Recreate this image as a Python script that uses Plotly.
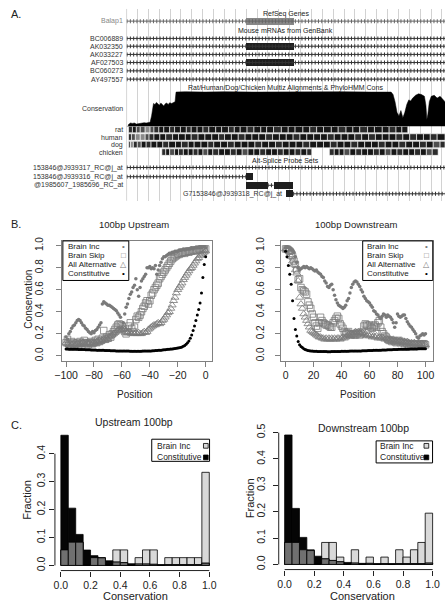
import numpy as np
import plotly.graph_objects as go

W, H = 446, 602
FONT = "Liberation Sans, Arial, Helvetica, sans-serif"
GRAY = "#7a7a7a"
LIGHT = "#d9d9d9"
DARK = "#707070"

def px(x): return x / W
def py(y): return 1 - y / H

# ---------------- Panel A data (genome browser) ----------------
mrna_names = ["Balap1", "BC006889", "AK032350", "AK033227", "AF027503", "BC060273", "AY497557"]
mrna_rows = [15.3, 32.8, 40.7, 49.0, 57.2, 65.6, 74.0]
exon_names = ["Balap1", "AK032350", "AF027503"]
exon_start = [122, 122, 122]
exon_end = [171, 171, 171]

cons_pos = [0, 1.5, 2, 4, 6, 8, 10, 12, 14, 16, 18, 20, 22, 24, 25.5, 26.5, 27.5, 29, 30.5, 32, 33.5,
            35, 36.5, 38, 39.5, 41, 42.5, 44, 46, 48, 49.5, 50.5, 60, 80, 100, 130, 160, 190, 220,
            250, 270, 272, 274, 276, 278, 280, 282, 284, 286, 288, 290, 292, 295, 298, 301, 304,
            305.5, 306.5, 307.5, 309, 311, 314, 317, 320, 323, 325]
cons_val = [0, 0, 0.06, 0.1, 0.09, 0.1, 0.07, 0.08, 0.1, 0.1, 0.11, 0.1, 0.1, 0.12, 0.3, 0.55, 0.65,
            0.62, 0.68, 0.64, 0.6, 0.66, 0.62, 0.58, 0.64, 0.66, 0.62, 0.67, 0.65, 0.68, 0.7, 0.97,
            0.98, 0.97, 0.98, 0.97, 0.98, 0.97, 0.98, 0.97, 0.97, 0.9, 0.7, 0.4, 0.3, 0.45, 0.25,
            0.4, 0.62, 0.75, 0.72, 0.8, 0.88, 0.92, 0.9, 0.85, 0.6, 0.2, 0.35, 0.7, 0.85, 0.88,
            0.8, 0.85, 0.75, 0.7]

species = ["rat", "human", "dog", "chicken"]
species_rows = [125.0, 132.6, 140.2, 147.8]
rat_edges = [2, 6, 10, 14, 19, 24, 28, 33, 38, 44, 49, 55, 61, 66, 72, 78, 84, 91, 97, 104, 110, 116,
             123, 130, 137, 143, 150, 158, 165, 172, 180, 187, 194, 201, 209, 216, 224, 231, 238,
             246, 253, 261, 268, 275, 281, 287]
rat_shades = [1, 0, 2, 2, 3, 2, 1, 0, 0, 1,
              0, 0, 1, 0, 0, 1, 0, 0, 0, 1,
              0, 0, 1, 0, 0, 0, 1, 0, 0, 0,
              0, 1, 0, 0, 0, 1, 0, 0, 1, 0,
              0, 0, 1, 0, 0]
human_edges = [2, 5, 9, 14, 19, 23, 28, 34, 40, 47, 53, 60, 66, 73, 80, 87, 94, 100, 107, 114, 121,
               128, 135, 142, 149, 156, 163, 170, 177, 184, 191, 198, 205, 212, 219, 226, 233, 240,
               247, 254, 261, 268, 275, 282, 289, 296, 303, 310, 317, 325]
human_shades = [1, 2, 3, 3, 2, 1, 0, 0, 1, 0,
                0, 0, 1, 0, 0, 0, 1, 0, 0, 1,
                0, 0, 0, 1, 0, 0, 0, 1, 0, 0,
                0, 0, 1, 0, 0, 0, 1, 0, 1, 0,
                0, 0, 1, 0, 1, 0, 0, 1, 0]
dog_edges = [2, 4, 7, 11, 15, 20, 25, 31, 37, 43, 50, 56, 63, 69, 76, 83, 89, 96, 103, 110, 117,
             124, 131, 138, 145, 152, 159, 166, 173, 180, 187, 194, 201, 208, 215, 222, 229, 236,
             243, 250, 257, 264, 271, 278, 285, 292, 299, 306, 313, 320, 325]
dog_shades = [2, 3, 1, 2, 0, 1, 0, 0, 1, 0,
              0, 1, 0, 0, 0, 1, 0, 0, 1, 0,
              0, 0, 1, 0, 0, 1, 0, 0, 0, 1,
              0, 0, 0, 1, 0, 0, 1, 0, 0, 0,
              1, 0, 0, 1, 0, 0, 1, 0, 2, 1]
chicken_edges = [36, 40, 44, 49, 53, 58, 63, 68, 73, 78, 83, 88, 94, 100, 106, 112, 118, 124, 130,
                 136, 142, 148, 154, 160, 166, 172, 178, 184, 189, 207, 212, 217, 222, 228, 234,
                 240, 246, 252, 258, 264, 270, 276, 282, 288, 294, 300, 306, 312, 318]
chicken_shades = [1, 0, 2, 0, 1, 0, 0, 1, 0, 2,
                  0, 1, 0, 0, 1, 0, 2, 0, 0, 1,
                  0, 0, 1, 0, 0, 1, 0, 1, None, 1,
                  0, 0, 2, 0, 1, 0, 0, 1, 0, 2,
                  0, 1, 0, 0, 1, 0, 2, 1]
shade_colors = ["#161616", "#2c2c2c", "#4e4e4e", "#8a8a8a"]

probe_names = ["153846@J939317_RC@j_at", "153846@J939316_RC@j_at",
               "@1985607_1985696_RC_at", "G7153846@J939318_RC@j_at"]
probe_rows = [163.4, 172.7, 181.4, 190.0]
probe_line_start = [0, 0, 144, 170]
probe_line_end = [325, 122, 150, 325]
probe_box_row = [1, 2, 2, 3]
probe_box_start = [122, 122, 150, 163]
probe_box_end = [129, 144, 170, 170]

# ---------------- Panel B data ----------------
up_pos = list(range(-100, 1))
dn_pos = list(range(0, 101))

up_brain_inc = [0.17, 0.15, 0.20, 0.22, 0.25, 0.27, 0.28, 0.30, 0.32, 0.33,
                0.32, 0.30, 0.28, 0.27, 0.25, 0.24, 0.22, 0.21, 0.20, 0.22,
                0.21, 0.23, 0.24, 0.26, 0.28, 0.30, 0.47, 0.49, 0.48, 0.47,
                0.46, 0.46, 0.45, 0.44, 0.43, 0.42, 0.41, 0.39, 0.37, 0.35,
                0.26, 0.30, 0.38, 0.44, 0.47, 0.52, 0.56, 0.58, 0.62, 0.64,
                0.70, 0.60, 0.54, 0.62, 0.68, 0.70, 0.72, 0.74, 0.80, 0.80,
                0.81, 0.79, 0.80, 0.79, 0.82, 0.74, 0.78, 0.82, 0.85, 0.88,
                0.90, 0.90, 0.91, 0.92, 0.93, 0.93, 0.94, 0.94, 0.95, 0.95,
                0.95, 0.96, 0.96, 0.96, 0.97, 0.96, 0.97, 0.97, 0.97, 0.97,
                0.98, 0.97, 0.98, 0.98, 0.98, 0.98, 0.99, 0.98, 0.99, 0.99,
                0.98]
up_brain_skip = [0.12, 0.15, 0.11, 0.10, 0.13, 0.12, 0.10, 0.11, 0.12, 0.10,
                 0.13, 0.11, 0.12, 0.14, 0.12, 0.11, 0.10, 0.12, 0.13, 0.11,
                 0.12, 0.14, 0.12, 0.15, 0.13, 0.14, 0.16, 0.23, 0.15, 0.17,
                 0.16, 0.19, 0.17, 0.20, 0.22, 0.24, 0.26, 0.28, 0.29, 0.28,
                 0.27, 0.25, 0.22, 0.20, 0.22, 0.27, 0.30, 0.25, 0.22, 0.26,
                 0.33, 0.36, 0.35, 0.37, 0.40, 0.43, 0.45, 0.48, 0.50, 0.47,
                 0.50, 0.55, 0.57, 0.60, 0.62, 0.64, 0.66, 0.70, 0.72, 0.74,
                 0.76, 0.78, 0.80, 0.82, 0.84, 0.86, 0.88, 0.89, 0.90, 0.91,
                 0.92, 0.92, 0.93, 0.93, 0.94, 0.93, 0.94, 0.95, 0.94, 0.95,
                 0.95, 0.96, 0.95, 0.96, 0.96, 0.97, 0.96, 0.97, 0.97, 0.97,
                 0.97]
up_all_alt = [0.12, 0.11, 0.10, 0.09, 0.10, 0.11, 0.09, 0.10, 0.11, 0.10,
              0.10, 0.11, 0.12, 0.11, 0.10, 0.12, 0.11, 0.12, 0.10, 0.11,
              0.12, 0.11, 0.13, 0.12, 0.14, 0.13, 0.14, 0.15, 0.14, 0.16,
              0.15, 0.17, 0.18, 0.19, 0.20, 0.21, 0.22, 0.23, 0.24, 0.23,
              0.24, 0.25, 0.24, 0.22, 0.21, 0.22, 0.21, 0.20, 0.21, 0.20,
              0.21, 0.20, 0.21, 0.20, 0.20, 0.21, 0.22, 0.21, 0.22, 0.24,
              0.25, 0.26, 0.27, 0.28, 0.28, 0.29, 0.30, 0.29, 0.30, 0.32,
              0.33, 0.35, 0.37, 0.39, 0.40, 0.43, 0.46, 0.50, 0.53, 0.57,
              0.60, 0.62, 0.64, 0.66, 0.69, 0.71, 0.73, 0.75, 0.77, 0.79,
              0.80, 0.82, 0.84, 0.86, 0.88, 0.89, 0.91, 0.92, 0.93, 0.94,
              0.95]
up_constitutive = [0.062, 0.062, 0.061, 0.061, 0.060, 0.060, 0.060, 0.059, 0.059, 0.058,
                   0.058, 0.058, 0.057, 0.057, 0.056, 0.056, 0.055, 0.055, 0.054, 0.054,
                   0.053, 0.053, 0.052, 0.052, 0.051, 0.051, 0.050, 0.050, 0.049, 0.049,
                   0.048, 0.048, 0.047, 0.047, 0.046, 0.046, 0.045, 0.045, 0.045, 0.044,
                   0.044, 0.044, 0.043, 0.043, 0.043, 0.043, 0.042, 0.042, 0.042, 0.042,
                   0.042, 0.042, 0.042, 0.042, 0.042, 0.043, 0.043, 0.043, 0.044, 0.044,
                   0.045, 0.045, 0.046, 0.047, 0.048, 0.049, 0.050, 0.051, 0.052, 0.054,
                   0.055, 0.056, 0.058, 0.059, 0.060, 0.062, 0.063, 0.065, 0.067, 0.069,
                   0.071, 0.074, 0.077, 0.081, 0.087, 0.095, 0.105, 0.118, 0.135, 0.160,
                   0.19, 0.23, 0.27, 0.32, 0.37, 0.42, 0.48, 0.57, 0.71, 0.83,
                   0.90]

dn_brain_inc = [0.98, 0.99, 0.98, 0.98, 0.97, 0.96, 0.94, 0.90, 0.85, 0.80,
                0.78, 0.79, 0.80, 0.81, 0.80, 0.81, 0.80, 0.79, 0.80, 0.79,
                0.78, 0.77, 0.78, 0.76, 0.75, 0.74, 0.72, 0.71, 0.68, 0.66,
                0.63, 0.62, 0.64, 0.65, 0.60, 0.55, 0.51, 0.48, 0.46, 0.45,
                0.44, 0.43, 0.44, 0.46, 0.50, 0.52, 0.57, 0.62, 0.65, 0.67,
                0.68, 0.67, 0.65, 0.63, 0.60, 0.58, 0.54, 0.52, 0.50, 0.49,
                0.48, 0.46, 0.44, 0.41, 0.40, 0.38, 0.37, 0.35, 0.34, 0.36,
                0.38, 0.37, 0.35, 0.37, 0.36, 0.35, 0.33, 0.30, 0.26, 0.30,
                0.38, 0.36, 0.35, 0.36, 0.37, 0.37, 0.34, 0.31, 0.29, 0.27,
                0.26, 0.24, 0.22, 0.20, 0.17, 0.16, 0.18, 0.19, 0.20, 0.19,
                0.20]
dn_brain_skip = [0.97, 0.97, 0.96, 0.95, 0.93, 0.90, 0.86, 0.83, 0.78, 0.69,
                 0.70, 0.62, 0.60, 0.59, 0.58, 0.56, 0.49, 0.46, 0.43, 0.38,
                 0.35, 0.30, 0.27, 0.25, 0.30, 0.35, 0.32, 0.30, 0.29, 0.28,
                 0.28, 0.27, 0.26, 0.26, 0.30, 0.32, 0.34, 0.36, 0.34, 0.29,
                 0.27, 0.25, 0.22, 0.20, 0.21, 0.22, 0.20, 0.19, 0.20, 0.19,
                 0.19, 0.20, 0.21, 0.19, 0.20, 0.22, 0.27, 0.29, 0.28, 0.27,
                 0.28, 0.26, 0.25, 0.27, 0.28, 0.26, 0.30, 0.32, 0.26, 0.22,
                 0.20, 0.18, 0.17, 0.15, 0.14, 0.14, 0.13, 0.14, 0.13, 0.12,
                 0.13, 0.14, 0.12, 0.13, 0.12, 0.11, 0.12, 0.11, 0.10, 0.11,
                 0.10, 0.11, 0.10, 0.11, 0.10, 0.10, 0.11, 0.10, 0.11, 0.11,
                 0.10]
dn_all_alt = [0.97, 0.97, 0.96, 0.94, 0.90, 0.86, 0.83, 0.78, 0.75, 0.68,
              0.53, 0.47, 0.43, 0.38, 0.35, 0.32, 0.29, 0.26, 0.23, 0.22,
              0.21, 0.20, 0.19, 0.18, 0.17, 0.17, 0.16, 0.16, 0.15, 0.16,
              0.15, 0.16, 0.15, 0.16, 0.15, 0.16, 0.15, 0.16, 0.16, 0.15,
              0.16, 0.17, 0.16, 0.17, 0.18, 0.19, 0.18, 0.20, 0.19, 0.21,
              0.22, 0.21, 0.22, 0.21, 0.20, 0.21, 0.19, 0.20, 0.18, 0.19,
              0.18, 0.19, 0.17, 0.18, 0.17, 0.18, 0.16, 0.17, 0.16, 0.17,
              0.16, 0.15, 0.16, 0.15, 0.14, 0.15, 0.14, 0.15, 0.14, 0.13,
              0.14, 0.13, 0.14, 0.13, 0.12, 0.13, 0.12, 0.13, 0.12, 0.11,
              0.12, 0.11, 0.12, 0.11, 0.10, 0.11, 0.10, 0.11, 0.10, 0.10,
              0.10]
dn_constitutive = [0.95, 0.90, 0.82, 0.74, 0.65, 0.50, 0.34, 0.24, 0.18, 0.13,
                   0.100, 0.085, 0.075, 0.065, 0.058, 0.053, 0.049, 0.046, 0.044, 0.043,
                   0.042, 0.041, 0.041, 0.040, 0.040, 0.040, 0.039, 0.039, 0.039, 0.039,
                   0.038, 0.038, 0.038, 0.039, 0.039, 0.039, 0.040, 0.040, 0.040, 0.040,
                   0.041, 0.041, 0.041, 0.042, 0.042, 0.042, 0.043, 0.043, 0.043, 0.044,
                   0.044, 0.044, 0.045, 0.045, 0.045, 0.046, 0.046, 0.047, 0.047, 0.048,
                   0.048, 0.049, 0.049, 0.050, 0.050, 0.051, 0.051, 0.052, 0.052, 0.053,
                   0.053, 0.054, 0.054, 0.055, 0.055, 0.056, 0.056, 0.057, 0.057, 0.058,
                   0.058, 0.059, 0.059, 0.060, 0.060, 0.060, 0.061, 0.061, 0.061, 0.062,
                   0.062, 0.062, 0.063, 0.063, 0.063, 0.064, 0.064, 0.064, 0.065, 0.065,
                   0.065]

# ---------------- Panel C data (histograms, bin width 0.05) ----------------
bin_left = [0.00, 0.05, 0.10, 0.15, 0.20, 0.25, 0.30, 0.35, 0.40, 0.45,
            0.50, 0.55, 0.60, 0.65, 0.70, 0.75, 0.80, 0.85, 0.90, 0.95]
up_hist_brain = [0.0556, 0.0833, 0.0833, 0, 0.0278, 0.0278, 0, 0.0556, 0.0556, 0,
                 0.0278, 0.0556, 0.0556, 0, 0.0278, 0.0278, 0.0278, 0.0278, 0.0278, 0.3333]
up_hist_const = [0.466, 0.205, 0.111, 0.055, 0.035, 0.027, 0.0165, 0.012, 0.010, 0.006,
                 0.005, 0.005, 0.004, 0.003, 0.003, 0.003, 0.003, 0.003, 0.003, 0.008]
dn_hist_brain = [0.0833, 0.0833, 0.0556, 0.0556, 0, 0.0833, 0.0833, 0.0278, 0, 0.0556,
                 0, 0.0278, 0, 0.0278, 0, 0.0556, 0.0278, 0.0556, 0.0833, 0.1944]
dn_hist_const = [0.491, 0.2125, 0.1025, 0.0525, 0.031, 0.021, 0.015, 0.010, 0.0075, 0.005,
                 0.004, 0.004, 0.003, 0.003, 0.003, 0.003, 0.003, 0.003, 0.003, 0.005]

fig = go.Figure()

# ---------------- Panel A traces ----------------
def strand_line(x0, x1, row, color):
    fig.add_trace(go.Scatter(x=[x0, x1], y=[row, row], mode="lines",
                             line=dict(color=color, width=1), xaxis="x", yaxis="y",
                             hoverinfo="skip"))
    fig.add_trace(go.Scatter(x=[x0, x1], y=[row, row], mode="lines",
                             line=dict(color=color, width=4, dash="1px,2.3px"),
                             xaxis="x", yaxis="y", hoverinfo="skip"))

for name, row in zip(mrna_names, mrna_rows):
    strand_line(0, 325, row, "#666666" if name == "Balap1" else "#333333")

ex_rows = [mrna_rows[mrna_names.index(n)] for n in exon_names]
ex_cols = ["#888888" if n == "Balap1" else "#1e1e1e" for n in exon_names]
fig.add_trace(go.Bar(orientation="h", y=ex_rows, base=exon_start,
                     x=list(np.array(exon_end) - np.array(exon_start)), width=7,
                     marker=dict(color=ex_cols, line=dict(width=0)),
                     xaxis="x", yaxis="y", hoverinfo="skip"))

fig.add_trace(go.Scatter(x=cons_pos, y=cons_val, mode="lines", fill="tozeroy",
                         fillcolor="black", line=dict(color="black", width=0.5),
                         xaxis="x", yaxis="y2", hoverinfo="skip"))

for name, row, edges, shades in zip(species, species_rows,
                                    [rat_edges, human_edges, dog_edges, chicken_edges],
                                    [rat_shades, human_shades, dog_shades, chicken_shades]):
    e = np.array(edges, dtype=float)
    keep = [i for i, s in enumerate(shades) if s is not None]
    fig.add_trace(go.Bar(orientation="h", y=[row] * len(keep), base=e[:-1][keep],
                         x=np.diff(e)[keep], width=6.6,
                         marker=dict(color=[shade_colors[shades[i]] for i in keep],
                                     line=dict(color="white", width=0.6)),
                         xaxis="x", yaxis="y", hoverinfo="skip"))

for i, row in enumerate(probe_rows):
    strand_line(probe_line_start[i], probe_line_end[i], row, "#333333")
pb_rows = [probe_rows[r] for r in probe_box_row]
fig.add_trace(go.Bar(orientation="h", y=pb_rows, base=probe_box_start,
                     x=list(np.array(probe_box_end) - np.array(probe_box_start)), width=7,
                     marker=dict(color="#1e1e1e", line=dict(width=0)),
                     xaxis="x", yaxis="y", hoverinfo="skip"))

# ---------------- Panel B traces ----------------
def add_scatter(xa, ya, pos, bi, bs, aa, co):
    fig.add_trace(go.Scatter(x=pos, y=aa, mode="markers", xaxis=xa, yaxis=ya,
                             marker=dict(symbol="triangle-up-open", size=7, color=GRAY,
                                         line=dict(width=0.8, color=GRAY))))
    fig.add_trace(go.Scatter(x=pos, y=bs, mode="markers", xaxis=xa, yaxis=ya,
                             marker=dict(symbol="square-open", size=6.5, color=GRAY,
                                         line=dict(width=0.8, color=GRAY))))
    fig.add_trace(go.Scatter(x=pos, y=bi, mode="markers", xaxis=xa, yaxis=ya,
                             marker=dict(symbol="circle", size=3.5, color=GRAY,
                                         line=dict(width=0))))
    fig.add_trace(go.Scatter(x=pos, y=co, mode="markers", xaxis=xa, yaxis=ya,
                             marker=dict(symbol="circle", size=3, color="black",
                                         line=dict(width=0))))

add_scatter("x2", "y3", up_pos, up_brain_inc, up_brain_skip, up_all_alt, up_constitutive)
add_scatter("x3", "y4", dn_pos, dn_brain_inc, dn_brain_skip, dn_all_alt, dn_constitutive)

# ---------------- Panel C traces ----------------
def add_hist(xa, ya, brain, const):
    low = [min(a, b) for a, b in zip(brain, const)]
    for vals, col in [(brain, LIGHT), (const, "#050505"), (low, DARK)]:
        fig.add_trace(go.Bar(x=bin_left, y=vals, width=0.05, offset=0, xaxis=xa, yaxis=ya,
                             marker=dict(color=col, line=dict(color="black", width=0.8)),
                             hoverinfo="skip"))

add_hist("x4", "y5", up_hist_brain, up_hist_const)
add_hist("x5", "y6", dn_hist_brain, dn_hist_const)

# ---------------- Layout ----------------
hidden = dict(visible=False, fixedrange=True)
tickfont = dict(size=10.5, color="#222222", family=FONT)

def box_axis(**kw):
    d = dict(showgrid=False, zeroline=False, showline=True, mirror=True, linecolor="#808080",
             linewidth=1, ticks="outside", ticklen=5, tickcolor="#808080", tickwidth=1,
             tickfont=tickfont)
    d.update(kw)
    return d

def hist_axis(**kw):
    d = dict(showgrid=False, zeroline=False, showline=False, ticks="outside", ticklen=5,
             tickcolor="#222222", tickwidth=1, tickfont=tickfont)
    d.update(kw)
    return d

yt = [0, 0.2, 0.4, 0.6, 0.8, 1.0]
ytt = ["0.0", "0.2", "0.4", "0.6", "0.8", "1.0"]
ct = [0, 0.2, 0.4, 0.6, 0.8, 1.0]

layout = dict(
    width=W, height=H, margin=dict(l=0, r=0, t=0, b=0),
    paper_bgcolor="white", plot_bgcolor="rgba(0,0,0,0)",
    showlegend=False, barmode="overlay", bargap=0,
    font=dict(family=FONT, color="#222222"),
    xaxis=dict(domain=[px(121), px(446)], range=[0, 325], anchor="y", showgrid=True,
               gridcolor="#d2d2d2", gridwidth=1, tick0=0, dtick=11.1,
               showticklabels=False, ticks="", zeroline=False, showline=False,
               fixedrange=True),
    yaxis=dict(domain=[py(197), py(3)], range=[197, 3], anchor="x", **hidden),
    yaxis2=dict(domain=[py(122), py(86)], range=[0, 1], anchor="x", **hidden),
    xaxis2=box_axis(domain=[px(55), px(208)], range=[-103.0, 4.4], anchor="y3",
                    tickvals=[-100, -80, -60, -40, -20, 0]),
    yaxis3=box_axis(domain=[py(359), py(238)], range=[-0.045, 1.04], anchor="x2",
                    tickvals=yt, ticktext=ytt, tickangle=-90, ticklabelstandoff=9,
                    tickfont=dict(size=10, color="#222222", family=FONT)),
    xaxis3=box_axis(domain=[px(278.3), px(433.5)], range=[-3.5, 105.2], anchor="y4",
                    tickvals=[0, 20, 40, 60, 80, 100]),
    yaxis4=box_axis(domain=[py(359), py(238)], range=[-0.045, 1.04], anchor="x3",
                    tickvals=yt, ticktext=ytt, tickangle=-90, ticklabelstandoff=7,
                    tickfont=dict(size=10, color="#222222", family=FONT)),
    xaxis4=hist_axis(domain=[px(47.9), px(211.5)], range=[-0.04, 1.04], anchor="y5",
                     tickvals=ct, ticktext=ytt),
    yaxis5=hist_axis(domain=[py(571.2), py(430.8)], range=[-0.0184, 0.4784], anchor="x4",
                     tickvals=[0, 0.1, 0.2, 0.3, 0.4],
                     ticktext=["0.0", "0.1", "0.2", "0.3", "0.4"], tickangle=-90),
    xaxis5=hist_axis(domain=[px(276.3), px(439.4)], range=[-0.04, 1.04], anchor="y6",
                     tickvals=ct, ticktext=ytt),
    yaxis6=hist_axis(domain=[py(570.2), py(429.1)], range=[-0.0196, 0.5096], anchor="x5",
                     tickvals=[0, 0.1, 0.2, 0.3, 0.4, 0.5],
                     ticktext=["0.0", "0.1", "0.2", "0.3", "0.4", "0.5"], tickangle=-90,
                     ticklabelstandoff=4),
)
fig.update_layout(**layout)

# ---------------- Shapes ----------------
shapes = []
shapes.append(dict(type="line", xref="x", yref="paper", x0=0, x1=0, y0=py(197), y1=py(3),
                   line=dict(color="#a8a8a8", width=1)))
for xa, ya in [("x4", "y5"), ("x5", "y6")]:
    shapes.append(dict(type="line", xref=xa, yref=ya + " domain", x0=0, x1=1, y0=0, y1=0,
                       line=dict(color="#222222", width=1)))
shapes.append(dict(type="line", xref="x4 domain", yref="y5", x0=0, x1=0, y0=0, y1=0.4,
                   line=dict(color="#222222", width=1)))
shapes.append(dict(type="line", xref="x5 domain", yref="y6", x0=0, x1=0, y0=0, y1=0.5,
                   line=dict(color="#222222", width=1)))

def rect(x0, y0, x1, y1, fill="white", lw=1, color="black"):
    shapes.append(dict(type="rect", xref="paper", yref="paper", x0=px(x0), x1=px(x1),
                       y0=py(y1), y1=py(y0), fillcolor=fill, layer="above",
                       line=dict(color=color, width=lw)))
rect(56, 237.7, 123.3, 277.7)
rect(362, 237.7, 433.5, 277.7)
rect(146.7, 438.3, 205.7, 460.7)
rect(375.7, 440, 433.3, 462.3)
rect(199.5, 442.6, 204.3, 447.4, fill=LIGHT, lw=0.8)
rect(199.5, 454.3, 204.3, 459.1, fill="black", lw=0.8)
rect(424.6, 442.6, 429.4, 447.4, fill=LIGHT, lw=0.8)
rect(424.6, 454.3, 429.4, 459.1, fill="black", lw=0.8)
fig.update_layout(shapes=shapes)

# ---------------- Annotations ----------------
anns = []
def ann(text, x, y, size, xanchor="center", color="#222222", angle=0):
    anns.append(dict(text=text, x=px(x), y=py(y), xref="paper", yref="paper",
                     xanchor=xanchor, yanchor="middle", showarrow=False, textangle=angle,
                     font=dict(size=size, color=color, family=FONT)))

ann("A.", 1, 8, 11, xanchor="left")
ann("B.", 1, 221, 11, xanchor="left")
ann("C.", 1, 424, 11, xanchor="left")

AS = 7.0
ann("RefSeq Genes", 283.5, 8.3, AS)
ann("Mouse mRNAs from GenBank", 283.5, 24.7, AS)
ann("Rat/Human/Dog/Chicken Multiz Alignments &amp; PhyloHMM Cons", 283.5, 83.3, AS)
ann("Alt-Splice Probe Sets", 283.5, 156.7, AS)
for name, row in zip(mrna_names, mrna_rows):
    ann(name, 119.5, row, AS, xanchor="right",
        color="#888888" if name == "Balap1" else "#333333")
ann("Conservation", 119.5, 104, AS, xanchor="right", color="#333333")
for name, row in zip(species, species_rows):
    ann(name, 119.5, row, AS, xanchor="right", color="#333333")
for name, row in zip(probe_names[:3], probe_rows[:3]):
    ann(name, 119.5, row, AS, xanchor="right", color="#333333")
ann(probe_names[3], 282, probe_rows[3], AS, xanchor="right", color="#333333")

ann("100bp Upstream", 128.5, 221, 9.5)
ann("100bp Downstream", 355, 221, 9.5)
ann("Position", 130, 393, 10)
ann("Position", 357, 393, 10)
ann("Conservation", 20.5, 297, 10, angle=-90)
leg_names = ["Brain Inc", "Brain Skip", "All Alternative", "Constitutive"]
leg_syms = ["•", "□", "△", "•"]
leg_cols = [GRAY, GRAY, GRAY, "black"]
leg_y = [243.5, 252.3, 261.3, 270.2]
for lx, sx in [(59, 118.3), (364.7, 427)]:
    for n, s, c, yy in zip(leg_names, leg_syms, leg_cols, leg_y):
        ann(n, lx, yy, 8, xanchor="left")
        ann(s, sx, yy, 8, color=c)

ann("Upstream 100bp", 129, 421, 10.5)
ann("Downstream 100bp", 362.5, 427, 10.5)
ann("Fraction", 20, 500, 11, angle=-90)
ann("Fraction", 247, 498, 11, angle=-90)
ann("Conservation", 130, 597, 11)
ann("Conservation", 361.5, 597, 11)
for lx, y1, y2 in [(150.5, 445, 456.7), (377.7, 445, 456.7)]:
    ann("Brain Inc", lx, y1, 8.5, xanchor="left")
    ann("Constitutive", lx, y2, 8.5, xanchor="left")

fig.update_layout(annotations=anns)
fig.write_html("out.html", config={"displayModeBar": False, "staticPlot": True},
               post_script="document.body.style.margin='0';document.body.style.padding='0';"
                           "document.body.style.overflow='hidden';")
